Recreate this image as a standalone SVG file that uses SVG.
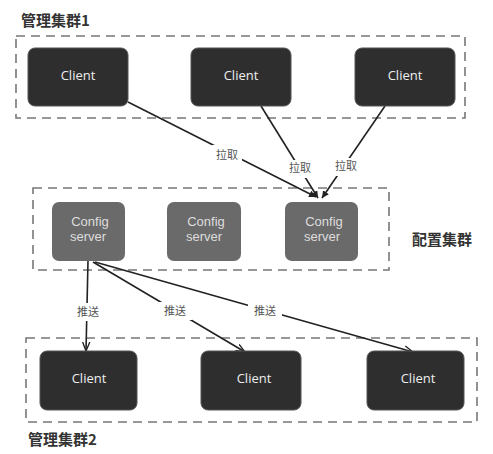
<svg xmlns="http://www.w3.org/2000/svg" width="493" height="454" viewBox="0 0 493 454">
<style>
.grp{fill:none;stroke:#777;stroke-width:1.6;stroke-dasharray:9,6}
.client{fill:#2e2e2e;stroke:#555;stroke-width:1}
.cfg{fill:#6a6a6a}
.ct{font-family:"Open Sans","Liberation Sans",sans-serif;font-size:13px;fill:#eee;text-anchor:middle}
.cs{font-family:"Liberation Sans",sans-serif;font-size:13px;fill:#ddd;text-anchor:middle}
.title{font-family:"Noto Sans CJK SC","Noto Sans",sans-serif;font-size:15px;font-weight:bold;fill:#333}
.lbl{font-family:"Noto Sans CJK SC","Noto Sans",sans-serif;font-size:11px;fill:#555;text-anchor:middle}
.ln{stroke:#222;stroke-width:1.6;fill:none}
.bg{fill:#fff}
</style>
<defs>
<marker id="af" viewBox="0 0 10 10" refX="10" refY="5" markerWidth="7" markerHeight="7" orient="auto" markerUnits="userSpaceOnUse">
<path d="M0,0 L10,5 L0,10 z" fill="#222"/>
</marker>
<marker id="ao" viewBox="0 0 10 10" refX="10" refY="5" markerWidth="9" markerHeight="9" orient="auto" markerUnits="userSpaceOnUse">
<path d="M0,1 L10,5 L0,9" fill="none" stroke="#222" stroke-width="1.5"/>
</marker>
</defs>
<rect width="493" height="454" fill="#fff"/>

<text class="title" x="21" y="26">管理集群1</text>
<rect class="grp" x="16" y="36" width="449" height="82"/>
<text class="title" x="412" y="245">配置集群</text>
<rect class="grp" x="33" y="188" width="356" height="82"/>
<rect class="grp" x="26" y="338" width="451" height="84"/>
<text class="title" x="28" y="445">管理集群2</text>

<g id="connectors">
<line class="ln" x1="128" y1="102" x2="316" y2="197" marker-end="url(#af)"/>
<line class="ln" x1="261" y1="106" x2="318" y2="198" marker-end="url(#af)"/>
<line class="ln" x1="385" y1="106" x2="322" y2="198" marker-end="url(#af)"/>
<line class="ln" x1="88" y1="261" x2="86" y2="351" marker-end="url(#ao)"/>
<line class="ln" x1="93" y1="262" x2="245" y2="352" marker-end="url(#ao)"/>
<line class="ln" x1="95" y1="262" x2="413" y2="352" marker-end="url(#ao)"/>
<rect class="bg" x="212" y="145" width="30" height="18"/>
<text class="lbl" x="227" y="159">拉取</text>
<rect class="bg" x="285" y="160" width="30" height="18"/>
<text class="lbl" x="300" y="172">拉取</text>
<rect class="bg" x="331" y="158" width="30" height="18"/>
<text class="lbl" x="346" y="170">拉取</text>
<rect class="bg" x="74" y="303" width="28" height="18"/>
<text class="lbl" x="88" y="316">推送</text>
<rect class="bg" x="158" y="302" width="34" height="18"/>
<text class="lbl" x="175" y="315">推送</text>
<rect class="bg" x="248" y="302" width="34" height="18"/>
<text class="lbl" x="265" y="315">推送</text>
</g>

<g id="client-a1"><rect class="client" x="28" y="48" width="100" height="58" rx="7"/><text class="ct" x="78" y="80">Client</text></g>
<g id="client-a2"><rect class="client" x="191" y="48" width="100" height="58" rx="7"/><text class="ct" x="241" y="80">Client</text></g>
<g id="client-a3"><rect class="client" x="355" y="48" width="100" height="58" rx="7"/><text class="ct" x="405" y="80">Client</text></g>

<g id="config1"><rect class="cfg" x="52" y="202" width="73" height="59" rx="7"/><text class="cs" x="90" y="226">Config</text><text class="cs" x="88" y="241">server</text></g>
<g id="config2"><rect class="cfg" x="167" y="202" width="74" height="59" rx="7"/><text class="cs" x="206" y="226">Config</text><text class="cs" x="204" y="241">server</text></g>
<g id="config3"><rect class="cfg" x="285" y="202" width="73" height="59" rx="7"/><text class="cs" x="324" y="226">Config</text><text class="cs" x="322" y="241">server</text></g>

<g id="client-b1"><rect class="client" x="40" y="351" width="97" height="59" rx="7"/><text class="ct" x="89" y="383">Client</text></g>
<g id="client-b2"><rect class="client" x="201" y="351" width="100" height="59" rx="7"/><text class="ct" x="254" y="383">Client</text></g>
<g id="client-b3"><rect class="client" x="367" y="351" width="97" height="59" rx="7"/><text class="ct" x="418" y="383">Client</text></g>
</svg>
